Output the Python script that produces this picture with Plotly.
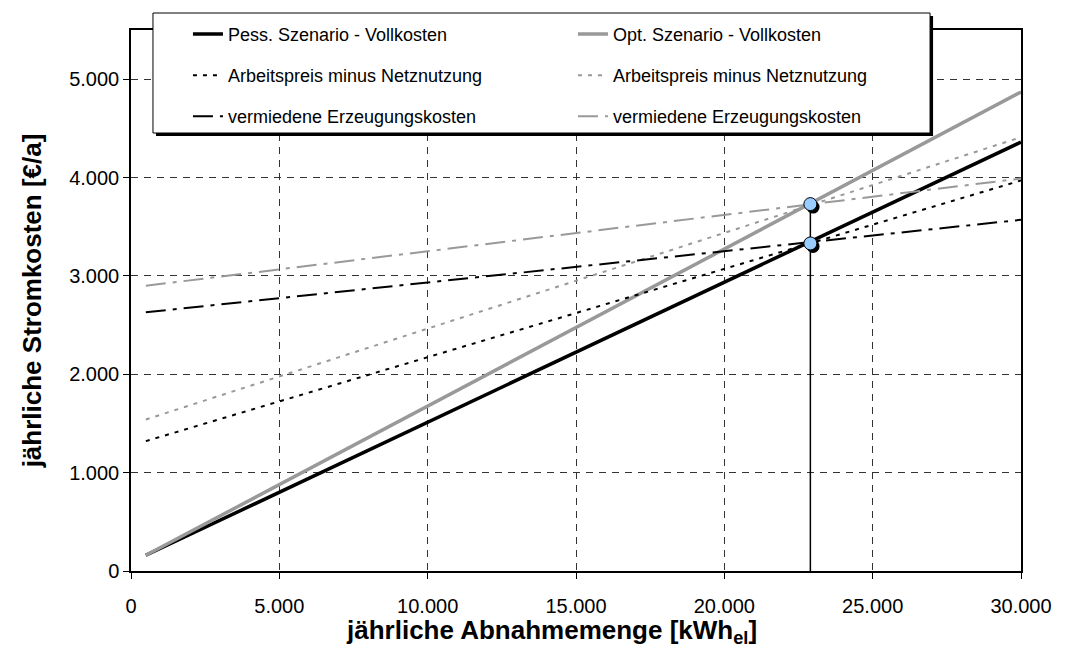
import plotly.graph_objects as go

# Abnahmemenge [kWh_el] – Anfang und Ende der Geraden
menge = [500, 30000]

# jährliche Stromkosten [€/a]
pess_vollkosten = [160, 4360]
opt_vollkosten = [160, 4870]
pess_arbeitspreis = [1320, 3970]
opt_arbeitspreis = [1540, 4410]
pess_vermieden = [2630, 3570]
opt_vermieden = [2900, 3990]

# Schnittpunkte
schnitt_menge = 22900
schnitt_pess = 3330
schnitt_opt = 3730

schwarz = "#000000"
grau = "#999999"
font = "Liberation Sans, Arial, sans-serif"
punktiert = "4px,6px"
strichpunkt = "20px,7px,4px,7px"

fig = go.Figure()

# jede Legendenzeile ist eine eigene Legende (2 Spalten x 3 Zeilen)
fig.add_trace(go.Scatter(x=menge, y=pess_vollkosten, mode="lines", name="Pess. Szenario - Vollkosten",
                         line=dict(color=schwarz, width=3.5), legend="legend"))
fig.add_trace(go.Scatter(x=menge, y=opt_vollkosten, mode="lines", name="Opt. Szenario - Vollkosten",
                         line=dict(color=grau, width=3.5), legend="legend"))
fig.add_trace(go.Scatter(x=menge, y=pess_arbeitspreis, mode="lines", name="Arbeitspreis minus Netznutzung",
                         line=dict(color=schwarz, width=2, dash=punktiert), legend="legend2"))
fig.add_trace(go.Scatter(x=menge, y=opt_arbeitspreis, mode="lines", name="Arbeitspreis minus Netznutzung",
                         line=dict(color=grau, width=2, dash=punktiert), legend="legend2"))
fig.add_trace(go.Scatter(x=menge, y=pess_vermieden, mode="lines", name="vermiedene Erzeugungskosten",
                         line=dict(color=schwarz, width=2, dash=strichpunkt), legend="legend3"))
fig.add_trace(go.Scatter(x=menge, y=opt_vermieden, mode="lines", name="vermiedene Erzeugungskosten",
                         line=dict(color=grau, width=2, dash=strichpunkt), legend="legend3"))

# Lot vom oberen Schnittpunkt auf die x-Achse
fig.add_trace(go.Scatter(x=[schnitt_menge, schnitt_menge], y=[0, schnitt_opt], mode="lines",
                         line=dict(color=schwarz, width=1.5), showlegend=False, hoverinfo="skip"))
# Schatten der Punkte
fig.add_trace(go.Scatter(x=[schnitt_menge + 90, schnitt_menge + 90], y=[schnitt_pess - 30, schnitt_opt - 30],
                         mode="markers", marker=dict(size=13, color=schwarz), showlegend=False, hoverinfo="skip"))
fig.add_trace(go.Scatter(x=[schnitt_menge, schnitt_menge], y=[schnitt_pess, schnitt_opt], mode="markers",
                         marker=dict(size=13, color="#99ccff", line=dict(color=schwarz, width=1)),
                         showlegend=False))


def zeile(y):
    return dict(orientation="h", x=0.064, y=y, xanchor="left", yanchor="middle",
                bgcolor="rgba(0,0,0,0)", borderwidth=0,
                entrywidth=340, entrywidthmode="pixels",
                font=dict(family=font, size=18, color="black"), traceorder="normal")


fig.update_layout(
    width=1080, height=650,
    margin=dict(l=123, r=67, t=22, b=87, autoexpand=False),
    paper_bgcolor="white", plot_bgcolor="white",
    separators=",.",
    font=dict(family=font, size=20, color="black"),
    showlegend=True,
    legend=zeile(0.992),
    legend2=zeile(0.916),
    legend3=zeile(0.840),
    shapes=[
        # Schatten und Rahmen der Legende
        dict(type="rect", xref="paper", yref="paper", x0=0.0281, x1=0.9012, y0=0.8041, y1=1.0259,
             fillcolor="black", line=dict(width=0), layer="above"),
        dict(type="rect", xref="paper", yref="paper", x0=0.0247, x1=0.8978, y0=0.8096, y1=1.0314,
             fillcolor="white", line=dict(color="black", width=1), layer="above"),
    ],
    # x-Achsentitel: wie im Original auf die Diagrammfläche zentriert
    annotations=[
        dict(text="<b>jährliche Abnahmemenge [kWh<sub>el</sub>]</b>", xref="paper", yref="paper",
             x=0.472, y=-0.112, xanchor="center", yanchor="middle", showarrow=False,
             font=dict(family=font, size=26, color="black")),
    ],
)

fig.update_xaxes(range=[0, 30000], dtick=5000, tickformat=",d", automargin=False,
                 showline=True, linecolor="black", linewidth=1.5, mirror=True,
                 ticks="outside", ticklen=6, tickcolor="black", ticklabelstandoff=10,
                 showgrid=True, gridcolor="#333333", gridwidth=1, griddash="7px,6px",
                 zeroline=False)
fig.update_yaxes(range=[0, 5500], dtick=1000, tickformat=",d", automargin=False,
                 showline=True, linecolor="black", linewidth=1.5, mirror=True,
                 ticks="outside", ticklen=6, tickcolor="black",
                 showgrid=True, gridcolor="#333333", gridwidth=1, griddash="7px,6px",
                 zeroline=False,
                 title=dict(text="<b>jährliche Stromkosten [€/a]</b>", standoff=20,
                            font=dict(size=26)))

fig.write_html("out.html")
